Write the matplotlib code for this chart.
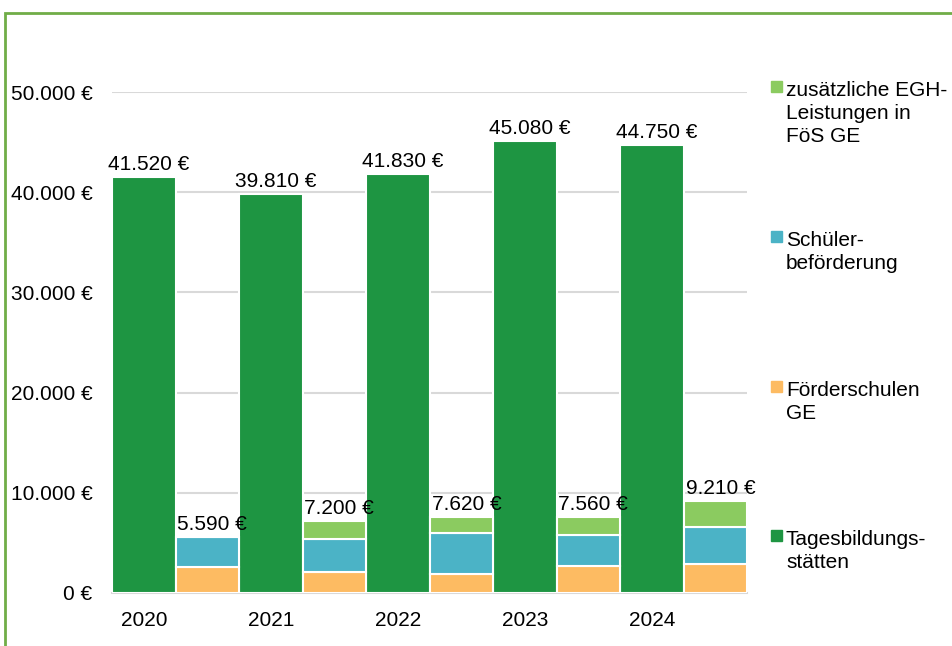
import matplotlib.pyplot as plt
from matplotlib.patches import Rectangle
import numpy as np

plt.rcParams["font.family"] = ["Liberation Sans", "DejaVu Sans"]

years = ["2020", "2021", "2022", "2023", "2024"]
tagesbildung = [41520, 39810, 41830, 45080, 44750]
foerderschulen = [2600, 2130, 1900, 2690, 2890]
schuelerbef = [2990, 3230, 4060, 3100, 3670]
zusaetzlich = [0, 1840, 1660, 1770, 2650]
stack_totals = [5590, 7200, 7620, 7560, 9210]

names = ["zusätzliche EGH-\nLeistungen in\nFöS GE", "Schüler-\nbeförderung",
         "Förderschulen\nGE", "Tagesbildungs-\nstätten"]
colors = ["#8BCB60", "#4BB3C6", "#FDBB62", "#1E9542"]

FS = 15


def euro(v):
    return f"{v:,.0f} €".replace(",", ".")


fig = plt.figure(figsize=(9.52, 6.46), dpi=100)
ax = fig.add_axes([112 / 952, 53 / 646, 635 / 952, 501 / 646])

x = np.arange(len(years))
w = 0.5
ax.bar(x, tagesbildung, w, color=colors[3], edgecolor="white", linewidth=1.5, zorder=3)
ax.bar(x + w, foerderschulen, w, color=colors[2], edgecolor="white", linewidth=1.5, zorder=3)
ax.bar(x + w, schuelerbef, w, bottom=foerderschulen, color=colors[1],
       edgecolor="white", linewidth=1.5, zorder=3)
bottom2 = np.array(foerderschulen) + np.array(schuelerbef)
ax.bar(x + w, zusaetzlich, w, bottom=bottom2, color=colors[0],
       edgecolor="white", linewidth=1.5, zorder=3)

# value labels
for i in range(len(years)):
    ax.text(x[i] + 0.04, tagesbildung[i] + 300, euro(tagesbildung[i]), ha="center",
            va="bottom", fontsize=FS, zorder=4)
    ax.text(x[i] + w + 0.04, stack_totals[i] + 300, euro(stack_totals[i]), ha="center",
            va="bottom", fontsize=FS, zorder=4)

ax.set_xlim(-0.25, 4.75)
ax.set_ylim(0, 50000)
ax.set_yticks(range(0, 50001, 10000))
ax.set_yticklabels([euro(v) for v in range(0, 50001, 10000)], fontsize=FS)
ax.set_xticks(x)
ax.set_xticklabels(years, fontsize=FS)
ax.tick_params(axis="y", length=0, pad=14)
ax.tick_params(axis="x", length=0, pad=13)
ax.grid(axis="y", color="#D9D9D9", linewidth=1.5, zorder=0)
for s in ["top", "right", "left"]:
    ax.spines[s].set_visible(False)
ax.spines["bottom"].set_color("#D9D9D9")
ax.spines["bottom"].set_linewidth(1.5)

# legend on the right
leg_top = [81, 231, 381, 530]
for name, col, yt in zip(names, colors, leg_top):
    fig.patches.append(Rectangle((771 / 952, 1 - (yt + 11) / 646), 11 / 952, 11 / 646,
                                 transform=fig.transFigure, color=col))
    fig.text(786 / 952, 1 - yt / 646, name, ha="left", va="top", fontsize=FS,
             linespacing=1.25)

# green frame
fig.patches.append(Rectangle((5 / 952, -0.05), 1.2, 1 - 13 / 646 + 0.05,
                             transform=fig.transFigure, fill=False,
                             edgecolor="#70AD47", linewidth=2))

fig.savefig("out.png", dpi=100)
